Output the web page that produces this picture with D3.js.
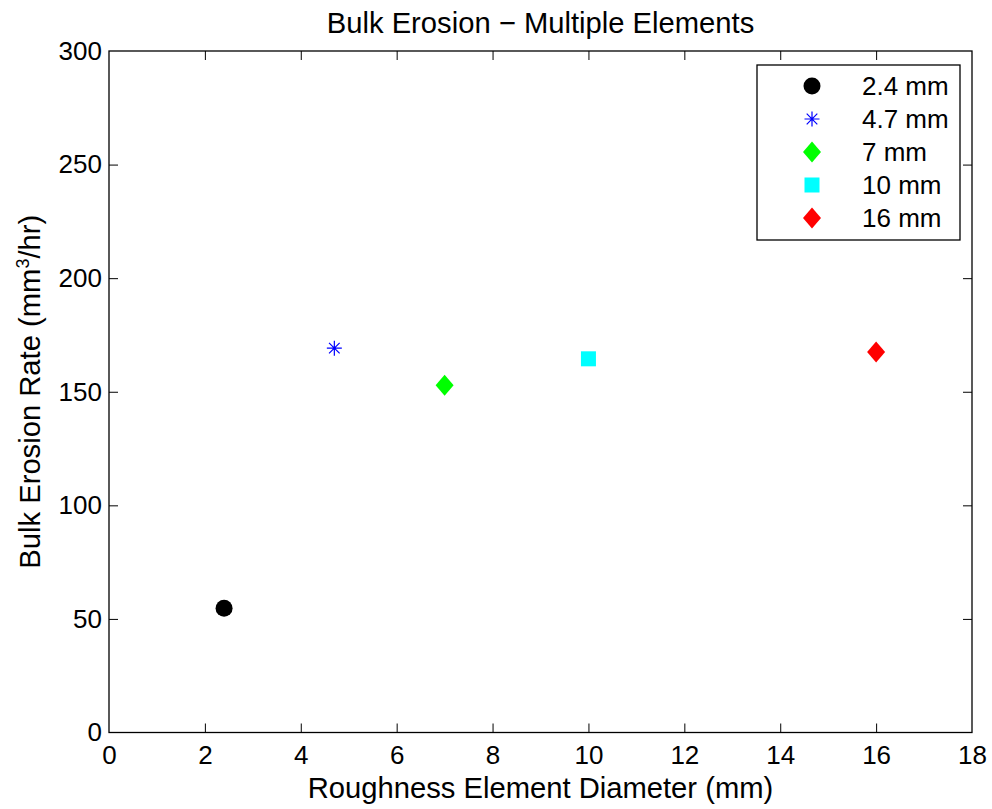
<!DOCTYPE html>
<html>
<head>
<meta charset="utf-8">
<script src="https://cdn.jsdelivr.net/npm/d3@7"></script>
<style>
  html, body { margin: 0; padding: 0; background: #fff; }
  svg { display: block; font-family: "Liberation Sans", Arial, Helvetica, sans-serif; }
</style>
</head>
<body>
<svg id="chart" width="992" height="809"></svg>
<script>
// Roughness element diameters (mm) and bulk erosion rates (mm^3/hr)
const labels   = ["2.4 mm", "4.7 mm", "7 mm", "10 mm", "16 mm"];
const diameter = [2.4, 4.7, 7, 10, 16];
const erosion  = [54.7, 169.2, 152.9, 164.5, 167.5];
const markers  = ["circle", "star", "diamond", "square", "diamond"];
const colors   = ["#000000", "#0000ff", "#00ff00", "#00ffff", "#ff0000"];

const xTicks = [0, 2, 4, 6, 8, 10, 12, 14, 16, 18];
const yTicks = [0, 50, 100, 150, 200, 250, 300];

const svg = d3.select("#chart");
const m = { left: 109, right: 972, top: 51, bottom: 732.5 };

const x = d3.scaleLinear().domain([0, 18]).range([m.left, m.right]);
const y = d3.scaleLinear().domain([0, 300]).range([m.bottom, m.top]);

const tickLen = 9;
const fs = 26;      // tick and legend text
const fsLab = 29.2; // title and axis labels

// bottom and top axes (ticks point inward)
const gx = svg.append("g").attr("transform", `translate(0,${m.bottom})`)
  .call(d3.axisBottom(x).tickValues(xTicks).tickSize(-tickLen).tickPadding(13).tickFormat(d3.format("d")));
const gxTop = svg.append("g").attr("transform", `translate(0,${m.top})`)
  .call(d3.axisTop(x).tickValues(xTicks).tickSize(-tickLen).tickFormat(""));
// left and right axes
const gy = svg.append("g").attr("transform", `translate(${m.left},0)`)
  .call(d3.axisLeft(y).tickValues(yTicks).tickSize(-tickLen).tickPadding(7).tickFormat(d3.format("d")));
const gyR = svg.append("g").attr("transform", `translate(${m.right},0)`)
  .call(d3.axisRight(y).tickValues(yTicks).tickSize(-tickLen).tickFormat(""));

[gx, gxTop, gy, gyR].forEach(g => {
  g.select(".domain").remove();
  g.attr("font-size", fs).attr("font-family", "Liberation Sans, Arial, sans-serif");
  g.selectAll(".tick line").attr("stroke", "#000").attr("stroke-width", 1);
  g.selectAll(".tick text").attr("fill", "#000");
});
// no tick marks drawn at the box corners
[gx, gxTop].forEach(g => g.selectAll(".tick").filter(d => d === 0 || d === 18).select("line").remove());
[gy, gyR].forEach(g => g.selectAll(".tick").filter(d => d === 0 || d === 300).select("line").remove());

// plot box
svg.append("rect")
  .attr("x", m.left).attr("y", m.top)
  .attr("width", m.right - m.left).attr("height", m.bottom - m.top)
  .attr("fill", "none").attr("stroke", "#000").attr("stroke-width", 1.3);

// marker drawing helper
function drawMarker(g, type, color, cx, cy) {
  if (type === "circle") {
    g.append("circle").attr("cx", cx).attr("cy", cy).attr("r", 8.5).attr("fill", color);
  } else if (type === "square") {
    g.append("rect").attr("x", cx - 7.5).attr("y", cy - 7.5).attr("width", 15).attr("height", 15).attr("fill", color);
  } else if (type === "diamond") {
    const w = 9, h = 10.5;
    g.append("path").attr("d", `M${cx},${cy - h}L${cx + w},${cy}L${cx},${cy + h}L${cx - w},${cy}Z`).attr("fill", color);
  } else if (type === "star") {
    const r = 7.5, d = r * Math.SQRT1_2;
    g.append("path")
      .attr("d", `M${cx - r},${cy}L${cx + r},${cy}M${cx},${cy - r}L${cx},${cy + r}` +
                 `M${cx - d},${cy - d}L${cx + d},${cy + d}M${cx - d},${cy + d}L${cx + d},${cy - d}`)
      .attr("stroke", color).attr("stroke-width", 1.2).attr("fill", "none");
  }
}

// data points
const pts = svg.append("g");
diameter.forEach((d, i) => drawMarker(pts, markers[i], colors[i], x(d), y(erosion[i])));

// legend
const leg = svg.append("g");
const lx = 757, ly = 65, lw = 203, lh = 175;
leg.append("rect").attr("x", lx).attr("y", ly).attr("width", lw).attr("height", lh)
  .attr("fill", "#fff").attr("stroke", "#000").attr("stroke-width", 1.3);
const rowY = d3.scalePoint().domain(d3.range(labels.length)).range([86, 218]);
labels.forEach((lab, i) => {
  drawMarker(leg, markers[i], colors[i], 812, rowY(i));
  leg.append("text").attr("x", 862).attr("y", rowY(i)).attr("dy", "0.35em")
    .attr("font-size", fs).attr("fill", "#000").text(lab);
});

// title and axis labels
svg.append("text").attr("x", (m.left + m.right) / 2).attr("y", 33)
  .attr("text-anchor", "middle").attr("font-size", fsLab).text("Bulk Erosion \u2212 Multiple Elements");
svg.append("text").attr("x", (m.left + m.right) / 2).attr("y", 798)
  .attr("text-anchor", "middle").attr("font-size", fsLab).text("Roughness Element Diameter (mm)");
const yl = svg.append("text")
  .attr("transform", `translate(40,${(m.top + m.bottom) / 2}) rotate(-90)`)
  .attr("text-anchor", "middle").attr("font-size", fsLab);
yl.append("tspan").text("Bulk Erosion Rate (mm");
yl.append("tspan").attr("font-size", 18).attr("dy", -11).text("3");
yl.append("tspan").attr("dy", 11).text("/hr)");
</script>
</body>
</html>
